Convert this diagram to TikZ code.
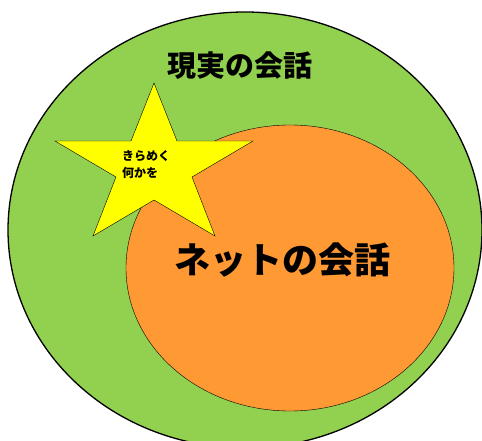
\documentclass[tikz,border=0pt]{standalone}
\usepackage{fontspec}
\setmainfont{Noto Sans CJK JP}
\usepackage{tikz}
\definecolor{realgreen}{RGB}{146,208,80}
\definecolor{netorange}{RGB}{255,153,51}
\definecolor{staryellow}{RGB}{255,255,0}

\begin{document}
\begin{tikzpicture}[x=1pt,y=-1pt]
\useasboundingbox (0,0) rectangle (482,441);
\clip (0,0) rectangle (482,441);
\filldraw [fill=realgreen, draw=black, line width=1.3pt] (245,230) ellipse [x radius=237pt, y radius=218pt];
\filldraw [fill=netorange, draw=black, line width=0.4pt] (290,268) ellipse [x radius=164pt, y radius=143pt];
\filldraw [fill=staryellow, draw=black, line width=0.4pt] (154,83) -- (177,141) -- (253,141) -- (192,177) -- (215,236)
  -- (154,200) -- (93,236) -- (116,177) -- (55,141) -- (131,141) -- cycle;
\node (realtitle) at (240,66) {\fontsize{29}{29}\selectfont\bfseries 現実の会話};
\node (nettitle) at (282,260) {\fontsize{36}{36}\selectfont\bfseries ネットの会話};
\node (kiramekutext) [align=left, font=\fontsize{12}{17}\selectfont\bfseries] at (146,165) {きらめく\\何かを};
\end{tikzpicture}
\end{document}
